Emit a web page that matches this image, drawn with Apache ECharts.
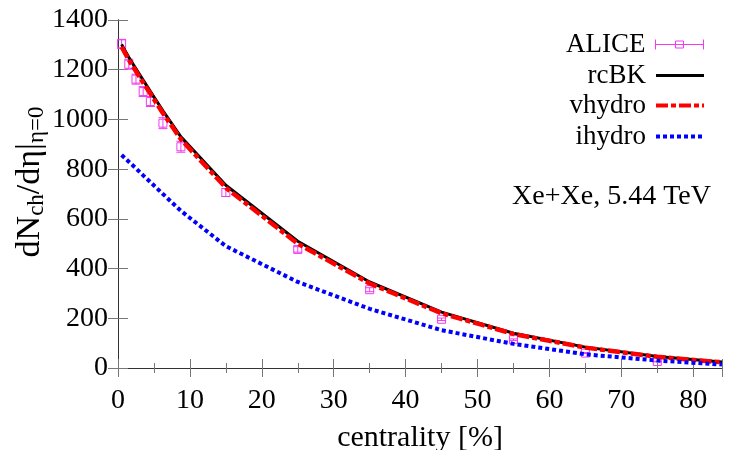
<!DOCTYPE html>
<html><head><meta charset="utf-8">
<script src="https://cdn.jsdelivr.net/npm/echarts/dist/echarts.min.js"></script>
<style>html,body{margin:0;padding:0;background:#fff}#c{width:750px;height:450px}</style>
</head><body><div id="c"></div>
<script>
// ALICE data (centrality bin centres, dNch/deta, error)
const aliceX = [0.5, 1.5, 2.5, 3.5, 4.5, 6.25, 8.75, 15, 25, 35, 45, 55, 65, 75];
const aliceY = [1304, 1222, 1162, 1112, 1072, 985, 890, 706, 477, 315, 196, 114, 60, 26];
const aliceErr = [18, 20, 20, 20, 20, 22, 22, 16, 11, 8, 5, 3, 2, 1.3];
// model curves
const modelX = [0.5, 1.5, 2.5, 3.5, 4.5, 6.25, 8.75, 15, 25, 35, 45, 55, 65, 75, 84];
const rcbk   = [1302, 1250, 1204, 1158, 1113, 1035, 930, 735, 510, 346, 225, 140, 84, 46, 24];
const vhydro = [1292, 1240, 1194, 1148, 1104, 1025, 920, 725, 500, 340, 220, 137, 82, 45, 23];
const ihydro = [857, 830, 803, 775, 748, 700, 632, 490, 346, 238, 152, 97, 55, 30, 14];
const xTickLabels = [0, 10, 20, 30, 40, 50, 60, 70, 80];
const yTickLabels = [0, 200, 400, 600, 800, 1000, 1200, 1400];

const FONT = 'Liberation Serif';
const chart = echarts.init(document.getElementById('c'));
const pairs = (xs, ys) => xs.map((x, i) => [x, ys[i]]);
const MAG = '#f03cf0';

function renderAlice(params, api) {
  const x = api.value(0), y = api.value(1), e = api.value(2);
  const c = api.coord([x, y]), t = api.coord([x, y + e]), b = api.coord([x, y - e]);
  const hw = 4.5, s = 4;
  const st = { stroke: MAG, lineWidth: 1, fill: 'none' };
  return { type: 'group', children: [
    { type: 'line', shape: { x1: c[0], y1: t[1], x2: c[0], y2: b[1] }, style: st },
    { type: 'line', shape: { x1: c[0] - hw, y1: t[1], x2: c[0] + hw, y2: t[1] }, style: st },
    { type: 'line', shape: { x1: c[0] - hw, y1: b[1], x2: c[0] + hw, y2: b[1] }, style: st },
    { type: 'rect', shape: { x: c[0] - s, y: c[1] - s, width: 2 * s, height: 2 * s }, style: st }
  ]};
}

const tickCommon = { inside: true, length: 9, lineStyle: { color: '#777', width: 1 } };
const minorCommon = { show: true, splitNumber: 2, length: 5, lineStyle: { color: '#777', width: 1 } };
const lineCommon = { show: true, lineStyle: { color: '#333', width: 1 } };
const labelX = { fontFamily: FONT, fontSize: 28, color: '#000', margin: 19,
  formatter: v => (xTickLabels.indexOf(v) >= 0 ? String(v) : '') };

const legendText = { fontFamily: FONT, fontSize: 27, color: '#000', lineHeight: 27, padding: [0, 5, 0, 0] };
function legendAt(top, name, icon, h, extra) {
  return { orient: 'vertical', align: 'right', right: 46, top: top, itemWidth: 48, itemHeight: h,
    padding: 0, itemGap: 0, textStyle: legendText,
    data: [Object.assign({ name: name, icon: icon }, extra || {})] };
}
// legend sample shapes (48 wide)
const iconAlice = 'path://M0,5L48,5M0,0L0,10M48,0L48,10M20,1.5L28,1.5L28,8.5L20,8.5Z';
const iconSolid = 'path://M0,0L48,0L48,3L0,3Z';
const iconDashDot = 'path://M0,0L12,0L12,4L0,4ZM15,0L20,0L20,4L15,4ZM23,0L35,0L35,4L23,4ZM38,0L43,0L43,4L38,4ZM46,0L48,0L48,4L46,4Z';
const iconDot = 'path://M0,0L4,0L4,4L0,4ZM7,0L11,0L11,4L7,4ZM14,0L18,0L18,4L14,4ZM21,0L25,0L25,4L21,4ZM28,0L32,0L32,4L28,4ZM35,0L39,0L39,4L35,4ZM42,0L46,0L46,4L42,4ZM47.9,0L48,0L48,0.1L47.9,0.1Z';

chart.setOption({
  animation: false,
  backgroundColor: '#fff',
  grid: { left: 118, right: 28, top: 20, bottom: 82, containLabel: false, outerBoundsMode: 'none' },
  xAxis: [
    { type: 'value', min: 0, max: 84, interval: 10, axisLine: lineCommon, axisTick: tickCommon,
      minorTick: minorCommon, splitLine: { show: false }, axisLabel: labelX,
      name: 'centrality [%]', nameLocation: 'middle', nameGap: 55,
      nameTextStyle: { fontFamily: FONT, fontSize: 30, color: '#000' } },
    { type: 'value', position: 'top', min: 0, max: 84, interval: 10, axisLine: lineCommon,
      axisTick: tickCommon, minorTick: minorCommon, splitLine: { show: false }, axisLabel: { show: false } }
  ],
  yAxis: [
    { type: 'value', min: 0, max: 1400, interval: 200, axisLine: lineCommon,
      axisTick: Object.assign({}, tickCommon, { length: 10 }), splitLine: { show: false },
      axisLabel: { fontFamily: FONT, fontSize: 28, color: '#000', margin: 10,
        formatter: v => (yTickLabels.indexOf(v) >= 0 ? String(v) : '') } },
    { type: 'value', position: 'right', min: 0, max: 1400, interval: 200, axisLine: lineCommon,
      axisTick: Object.assign({}, tickCommon, { length: 10 }), splitLine: { show: false }, axisLabel: { show: false } }
  ],
  legend: [
    legendAt(31, 'ALICE', iconAlice, 10, { itemStyle: { color: 'transparent', borderColor: MAG, borderWidth: 1 } }),
    legendAt(62, 'rcBK', iconSolid, 3, { itemStyle: { color: '#000' } }),
    legendAt(92, 'vhydro', iconDashDot, 4.5, { itemStyle: { color: '#ff0000' } }),
    legendAt(123, 'ihydro', iconDot, 4, { itemStyle: { color: '#0000ff' } })
  ],
  series: [
    { name: 'ALICE', type: 'custom', renderItem: renderAlice, itemStyle: { color: MAG },
      encode: { x: 0, y: 1 },
      data: aliceX.map((x, i) => [x, aliceY[i], aliceErr[i]]) },
    { name: 'rcBK', type: 'line', data: pairs(modelX, rcbk), symbol: 'none', showSymbol: false,
      lineStyle: { color: '#000', width: 3 }, itemStyle: { color: '#000' } },
    { name: 'vhydro', type: 'line', data: pairs(modelX, vhydro), symbol: 'none', showSymbol: false,
      lineStyle: { color: '#ff0000', width: 4.5, type: [12, 3, 5, 3] }, itemStyle: { color: '#ff0000' } },
    { name: 'ihydro', type: 'line', data: pairs(modelX, ihydro), symbol: 'none', showSymbol: false,
      lineStyle: { color: '#0000ff', width: 4, type: [4, 3] }, itemStyle: { color: '#0000ff' } }
  ],
  graphic: [
    { type: 'text', x: 30, y: 182, rotation: Math.PI / 2,
      style: { text: '{a|dN}{s|ch}{a|/dη|}{s|η=0}', align: 'center', verticalAlign: 'middle',
        rich: {
          a: { fontFamily: FONT, fontSize: 34, color: '#000', lineHeight: 42 },
          s: { fontFamily: FONT, fontSize: 23, color: '#000', lineHeight: 23, padding: [14, 0, 0, 0] }
        } } },
    { type: 'text', x: 711, y: 197,
      style: { text: 'Xe+Xe, 5.44 TeV', align: 'right', verticalAlign: 'middle',
        fontFamily: FONT, fontSize: 28, fill: '#000' } }
  ]
});
</script></body></html>
